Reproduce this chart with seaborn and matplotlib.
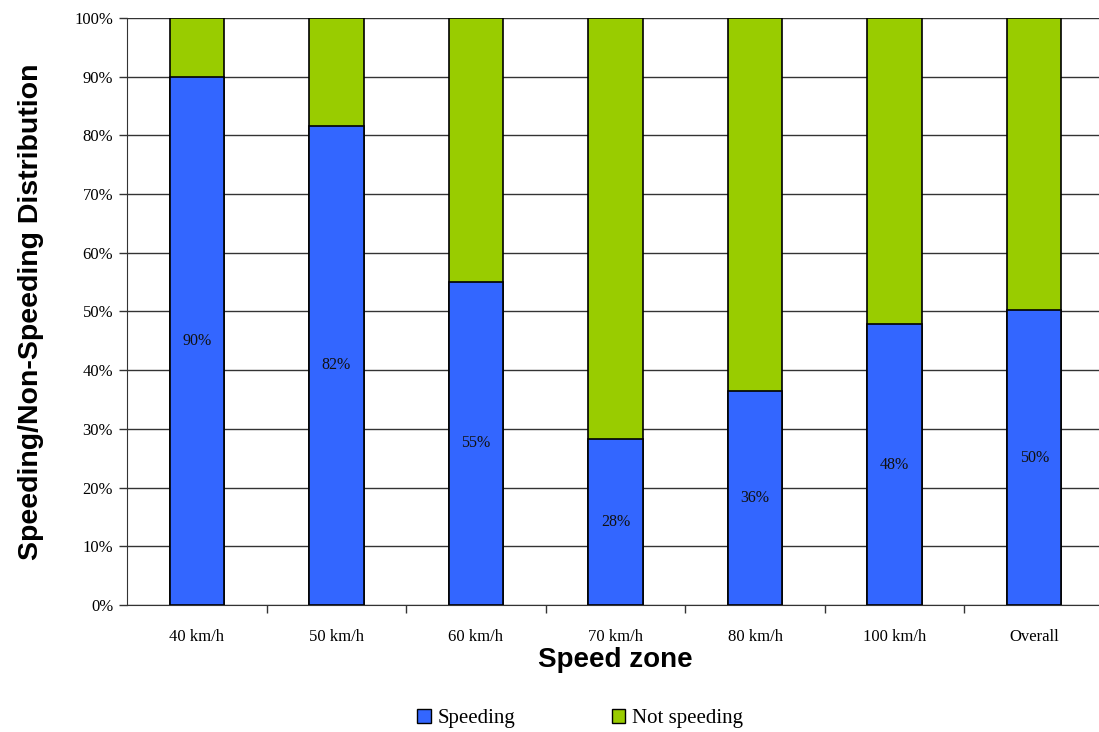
import matplotlib
matplotlib.use("Agg")
import matplotlib.pyplot as plt
from matplotlib.ticker import PercentFormatter, FixedLocator
import numpy as np
import pandas as pd
import seaborn as sns

# data
zones = ["40 km/h", "50 km/h", "60 km/h", "70 km/h", "80 km/h", "100 km/h", "Overall"]
speeding_labels = [90, 82, 55, 28, 36, 48, 50]
speeding = [89.9, 81.6, 55.1, 28.3, 36.5, 47.8, 50.2]
not_speeding = [10.1, 18.4, 44.9, 71.7, 63.5, 52.2, 49.8]

BLUE = "#3366FF"
GREEN = "#99CC00"

sns.set_style("white")
plt.rcParams["font.family"] = ["Liberation Serif", "DejaVu Serif"]
plt.rcParams["text.color"] = "black"
plt.rcParams["xtick.color"] = "black"
plt.rcParams["ytick.color"] = "black"
plt.rcParams["axes.labelcolor"] = "black"

df = pd.DataFrame({
    "zone": zones,
    "speeding": speeding,
    "total": [s + n for s, n in zip(speeding, not_speeding)],
})

fig = plt.figure(figsize=(10.99, 7.32), dpi=100)
ax = fig.add_axes([0.1156, 0.1735, 0.889, 0.802])

# gridlines behind bars
ax.set_axisbelow(True)
ax.yaxis.grid(True, color="#333333", linewidth=1.0)

# stacked bars: full bar in green, speeding part in blue on top
sns.barplot(data=df, x="zone", y="total", color=GREEN, width=0.39,
            edgecolor="black", linewidth=1.2, saturation=1, ax=ax)
sns.barplot(data=df, x="zone", y="speeding", color=BLUE, width=0.39,
            edgecolor="black", linewidth=1.2, saturation=1, ax=ax)

# labels in the middle of the blue part
for i, (v, lab) in enumerate(zip(speeding, speeding_labels)):
    ax.text(i, v / 2, f"{lab}%", ha="center", va="center", fontsize=11.5,
            color="#111111")

ax.set_xlim(-0.5, 6.5)
ax.set_ylim(0, 100)
ax.yaxis.set_major_locator(FixedLocator(np.arange(0, 101, 10)))
ax.yaxis.set_major_formatter(PercentFormatter(decimals=0))
ax.tick_params(axis="y", direction="out", length=6, width=1, color="#333333",
               labelsize=12, pad=4, left=True)
ax.set_xticks(range(len(zones)))
ax.set_xticklabels(zones, fontsize=12)
ax.tick_params(axis="x", length=0, pad=17)
ax.set_xticks(np.arange(0.5, 6.5, 1), minor=True)
ax.tick_params(axis="x", which="minor", direction="out", length=6, width=1,
               color="#333333", bottom=True)

for side in ["top", "right"]:
    ax.spines[side].set_visible(False)
ax.spines["left"].set_color("#333333")
ax.spines["bottom"].set_color("#333333")

ax.set_xlabel("Speed zone", fontsize=20, fontweight="bold",
              family=["Liberation Sans", "DejaVu Sans"], labelpad=2)
ax.set_ylabel("Speeding/Non-Speeding Distribution", fontsize=20.5,
              fontweight="bold", family=["Liberation Sans", "DejaVu Sans"],
              labelpad=22)

handles = [plt.Rectangle((0, 0), 1, 1, facecolor=BLUE, edgecolor="black"),
           plt.Rectangle((0, 0), 1, 1, facecolor=GREEN, edgecolor="black")]
fig.legend(handles, ["Speeding", "Not speeding"], loc="lower center",
           bbox_to_anchor=(0.528, -0.02), ncol=2, frameon=False, fontsize=15,
           handlelength=0.65, handleheight=0.65, handletextpad=0.35,
           columnspacing=4.6)

fig.savefig("out.png", dpi=100)
